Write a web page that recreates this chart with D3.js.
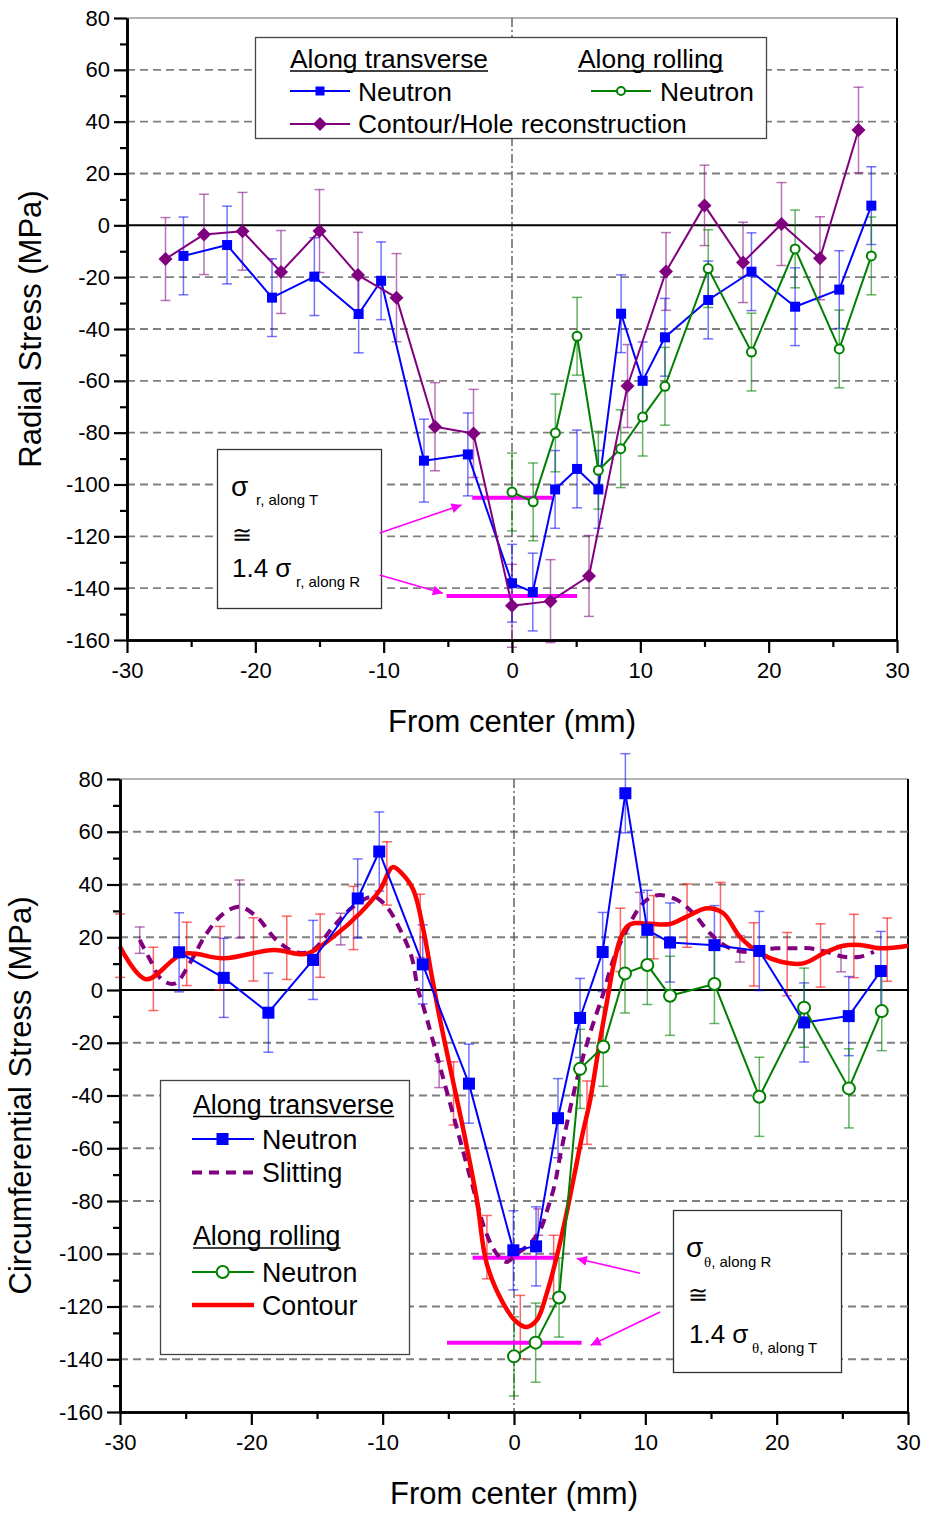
<!DOCTYPE html>
<html><head><meta charset="utf-8">
<script src="https://cdn.jsdelivr.net/npm/d3@7"></script>
<style>
body{margin:0;background:#fff}
svg{display:block;font-family:"Liberation Sans",Arial,sans-serif}
</style>
</head><body>
<script>
// ---------------- DATA ----------------
const xTickValues = [-30,-20,-10,0,10,20,30];
const xMinorValues = [-25,-15,-5,5,15,25];
const yTickValues = [-160,-140,-120,-100,-80,-60,-40,-20,0,20,40,60,80];
const yMinorValues = [-150,-130,-110,-90,-70,-50,-30,-10,10,30,50,70];

// Top chart: radial stress
const topBlueX = [-25.6,-22.2,-18.7,-15.4,-11.95,-10.2,-6.86,-3.44,0,1.62,3.36,5.07,6.73,8.5,10.18,11.92,15.29,18.66,22.06,25.5,28.0];
const topBlueY = [-11.8,-7.6,-27.9,-19.8,-34.2,-21.4,-90.8,-88.4,-138.1,-141.5,-101.9,-94,-101.9,-34.1,-60,-43.2,-28.8,-17.9,-31.4,-24.8,7.6];
const topBlueErr = [15,15,15,15,15,15,16,16,15,15,15,15,15,15,15,15,15,15,15,15,15];

const topPurpleX = [-27,-24,-21,-18,-15,-12,-9,-6,-3,0,3,6,9,12,15,18,21,24,27];
const topPurpleY = [-13,-3.5,-2.3,-18,-2.2,-19.2,-27.9,-77.7,-80.3,-146.8,-145,-135.3,-62,-17.8,7.7,-14.3,0.5,-12.7,36.8];
const topPurpleErr = [16,15.5,15,16,16,16.5,17,17,17,16,16,15.6,16,15,15.5,15.5,16,16,16.5];

const topGreenX = [0,1.65,3.38,5.07,6.73,8.47,10.18,11.92,15.29,18.66,22.06,25.5,28.0];
const topGreenY = [-102.9,-106.7,-80.1,-42.8,-94.5,-86.2,-74,-62.1,-16.7,-48.9,-9.1,-47.7,-11.8];
const topGreenErr = [15,15,15,15,15,15,15,15,15,15,15,15,15];

// Bottom chart: circumferential stress
const botBlueX = [-25.5,-22.1,-18.7,-15.3,-11.9,-10.26,-6.95,-3.43,-0.05,1.68,3.35,5.03,6.75,8.48,10.15,11.88,15.26,18.68,22.09,25.49,27.93];
const botBlueY = [14.3,4.6,-8.6,11.4,34.7,52.5,9.7,-35.5,-98.7,-97.2,-48.6,-10.6,14.4,74.6,22.8,18.0,17,14.8,-12.3,-9.9,7.2];
const botBlueErr = [15,15,15,15,15,15,15,15,15,15,15,15,15,15,15,15,15,15,15,15,15];

const botGreenX = [0,1.65,3.43,5.03,6.8,8.45,10.15,11.88,15.26,18.68,22.09,25.5,28.0];
const botGreenY = [-138.9,-133.7,-116.6,-29.9,-21.5,6.3,9.5,-2.2,2.3,-40.5,-6.7,-37.3,-8.0];
const botGreenErr = [15,15,15,15,15,15,15,15,15,15,15,15,15];

const contourX = [-30,-28,-25.2,-22.1,-18.3,-15.8,-13.76,-11.73,-10.2,-9.24,-8.6,-7.67,-6.9,-6.25,-5.6,-4.77,-3.8,-2.82,-2.08,-0.81,0.2,0.97,1.73,2.49,3.25,4.0,4.6,5.2,5.8,6.45,7.1,7.6,8.07,8.6,9.09,10.1,11.88,13.15,14.68,15.94,17.2,18.74,20.26,22.03,23.56,25.08,26.35,27.9,30];
const contourY = [16.4,4.1,13.7,12,15.2,13.7,20.2,29.1,38,46.6,44.5,38,22.8,5,-12,-31.6,-54.4,-79.7,-103.7,-118.9,-125.9,-127.8,-125.2,-115.1,-101.2,-84.7,-70,-55,-41.7,-22,-3.8,10,19,24,25.3,25.2,25,27.8,31,29.1,20.2,13.9,10.8,10.1,13.9,16.8,17.1,15.8,16.8];
const contourErrX = [-30,-27.46,-24.92,-22.38,-19.84,-17.3,-14.76,-12.22,-9.68,-7.14,-4.6,-2.06,0.48,3.02,5.56,8.1,10.64,13.18,15.72,18.26,20.8,23.34,25.88,28.42];
const contourErrY = [16.8,4.2,13.7,12.1,15.4,16,16.8,27.3,44.2,24.3,-39.2,-97.5,-127.8,-105,-46.5,19,23.8,28.2,28.8,13.5,9.8,13.1,16.7,15.3];
const contourErr = [12,12,12,12,12,12,12,12,12,12,12,12,12,12,12,12,12,12,12,12,12,12,12,12];

const slitX = [-28.5,-27.7,-26.8,-25.8,-24.7,-23.4,-22.1,-20.9,-19.6,-18.1,-16.55,-15.3,-13.76,-12.24,-10.7,-9.7,-8.68,-7.8,-7.3,-6.9,-5.5,-4.1,-3.2,-2.2,-1.32,-0.56,0.08,1.22,1.98,2.61,3.12,3.5,4.78,5.79,6.8,7.56,8.58,9.6,10.36,11.1,12.4,13.65,14.93,16.2,17.46,18.7,19.96,21.3,22.5,23.8,25.1,26.35,27.4];
const slitY = [19,11.4,3.8,2.5,10.1,21.5,29.1,31.6,27.8,19,14.2,15.2,24,31.6,35.4,31.6,23,12.6,0,-6.3,-31.5,-57,-73.5,-91,-100,-103.1,-100.6,-96.1,-91.1,-82.2,-73.4,-63.3,-34.2,-16.4,-1.3,11.4,22.8,31.6,35,36,34.2,29.1,21.5,16.4,14.5,15.2,15.8,15.8,15.8,14.5,12.6,12.6,14.5];
const slitErrX = [-28.5,-20.9,-13.2,-5.7,1.85,9.6,17.2,24.9];
const slitErrY = [18.9,30.7,23.1,-32,-88,31,15.6,11.9];
const slitErr = [5,11,6,5,5,6,5,5];

// annotation data (mm, MPa)
const topBands = [{y:-105.1,x0:-3.1,x1:3.13},{y:-143,x0:-5.1,x1:5.07}];
const topArrows = [{x0:-10.31,y0:-118.7,x1:-3.93,y1:-107.9},{x0:-10.31,y0:-134.9,x1:-5.39,y1:-142}];
const botBands = [{y:-101.5,x0:-3.15,x1:3.25},{y:-133.7,x0:-5.1,x1:5.15}];
const botArrows = [{x0:9.6,y0:-107.4,x1:4.78,y1:-101.8},{x0:11.12,y0:-122.1,x1:5.84,y1:-134.7}];

// ---------------- DRAWING ----------------
const FONT = '"Liberation Sans", Arial, sans-serif';
const svg = d3.select('body').append('svg').attr('width',926).attr('height',1514);
const defs = svg.append('defs');
defs.append('marker').attr('id','arrowM').attr('viewBox','0 0 10 10').attr('refX',10).attr('refY',5)
  .attr('markerWidth',14).attr('markerHeight',10).attr('markerUnits','userSpaceOnUse').attr('orient','auto')
  .append('path').attr('d','M0,0 L10,5 L0,10 Z').attr('fill','#ff00ff');

const zip = (xs, ys, es) => xs.map((v,i)=>({x:v, y:ys[i], e: es ? es[i] : 0}));

function setupChart(cfg){
  const x = d3.scaleLinear().domain([-30,30]).range([cfg.left,cfg.right]);
  const y = d3.scaleLinear().domain([-160,80]).range([cfg.bottom,cfg.top]);
  const g = svg.append('g');
  g.append('line').attr('x1',cfg.left).attr('x2',cfg.right).attr('y1',cfg.top).attr('y2',cfg.top)
    .attr('stroke','#9a9a9a').attr('stroke-width',1.5);
  g.append('line').attr('x1',cfg.right).attr('x2',cfg.right).attr('y1',cfg.top).attr('y2',cfg.bottom)
    .attr('stroke','#000').attr('stroke-width',2);
  g.append('g').selectAll('line').data(yTickValues.filter(v=>v!==0&&v!==80&&v!==-160)).join('line')
    .attr('x1',cfg.left).attr('x2',cfg.right).attr('y1',d=>y(d)).attr('y2',d=>y(d))
    .attr('stroke','#7f7f7f').attr('stroke-width',1.8).attr('stroke-dasharray','8,5');
  g.append('line').attr('x1',x(0)).attr('x2',x(0)).attr('y1',cfg.top).attr('y2',cfg.bottom)
    .attr('stroke','#5a5a5a').attr('stroke-width',1.4).attr('stroke-dasharray','9,3,2,3');
  g.append('line').attr('x1',cfg.left).attr('x2',cfg.right).attr('y1',y(0)).attr('y2',y(0))
    .attr('stroke','#000').attr('stroke-width',2);
  return {x,y,g,cfg};
}

function drawAxes(c, title, titleX){
  const {x,y,g,cfg} = c;
  const styleAxis = (sel, fs) => {
    sel.select('.domain').attr('stroke','#000').attr('stroke-width',2.6);
    sel.selectAll('.tick line').attr('stroke','#000').attr('stroke-width',2.2);
    sel.selectAll('.tick text').attr('fill','#000').style('font-family',FONT).style('font-size',fs+'px');
  };
  const la = g.append('g').attr('transform',`translate(${cfg.left},0)`)
    .call(d3.axisLeft(y).tickValues(yTickValues).tickSize(13).tickSizeOuter(0).tickPadding(4).tickFormat(d=>String(d)));
  styleAxis(la,22);
  const lm = g.append('g').attr('transform',`translate(${cfg.left},0)`)
    .call(d3.axisLeft(y).tickValues(yMinorValues).tickSize(7).tickSizeOuter(0).tickFormat(''));
  styleAxis(lm,22);
  const ba = g.append('g').attr('transform',`translate(0,${cfg.bottom})`)
    .call(d3.axisBottom(x).tickValues(xTickValues).tickSize(13).tickSizeOuter(0).tickPadding(9).tickFormat(d=>String(d)));
  styleAxis(ba,22);
  const bm = g.append('g').attr('transform',`translate(0,${cfg.bottom})`)
    .call(d3.axisBottom(x).tickValues(xMinorValues).tickSize(7).tickSizeOuter(0).tickFormat(''));
  styleAxis(bm,22);
  g.append('text').attr('x',(cfg.left+cfg.right)/2).attr('y',cfg.bottom+81)
    .attr('text-anchor','middle').attr('dominant-baseline','central')
    .style('font-family',FONT).style('font-size','31px').text('From center (mm)');
  g.append('text').attr('transform',`translate(${titleX},${(cfg.top+cfg.bottom)/2}) rotate(-90)`)
    .attr('text-anchor','middle').attr('dominant-baseline','central')
    .style('font-family',FONT).style('font-size','31px').text(title);
}

function errorBars(c, data, color, cap, sw){
  const {x,y,g} = c;
  const eg = g.append('g').attr('stroke',color).attr('stroke-width',sw||1.5);
  data.forEach(d=>{
    eg.append('line').attr('x1',x(d.x)).attr('x2',x(d.x)).attr('y1',y(d.y+d.e)).attr('y2',y(d.y-d.e));
    eg.append('line').attr('x1',x(d.x)-cap).attr('x2',x(d.x)+cap).attr('y1',y(d.y+d.e)).attr('y2',y(d.y+d.e));
    eg.append('line').attr('x1',x(d.x)-cap).attr('x2',x(d.x)+cap).attr('y1',y(d.y-d.e)).attr('y2',y(d.y-d.e));
  });
}
function polyline(c, data, color, sw, curve, dash){
  const {x,y,g} = c;
  const line = d3.line().x(d=>x(d.x)).y(d=>y(d.y)).curve(curve||d3.curveLinear);
  const p = g.append('path').datum(data).attr('d',line).attr('fill','none')
    .attr('stroke',color).attr('stroke-width',sw).attr('stroke-linejoin','round');
  if(dash) p.attr('stroke-dasharray',dash).attr('stroke-linecap','butt');
}
function squares(c, data, color, s){
  const {x,y,g} = c;
  g.append('g').selectAll('rect').data(data).join('rect')
    .attr('x',d=>x(d.x)-s/2).attr('y',d=>y(d.y)-s/2).attr('width',s).attr('height',s).attr('fill',color);
}
function diamonds(c, data, color, h){
  const {x,y,g} = c;
  g.append('g').selectAll('path').data(data).join('path')
    .attr('d',d=>`M${x(d.x)},${y(d.y)-h} L${x(d.x)+h},${y(d.y)} L${x(d.x)},${y(d.y)+h} L${x(d.x)-h},${y(d.y)} Z`)
    .attr('fill',color);
}
function circles(c, data, color, r, sw){
  const {x,y,g} = c;
  g.append('g').selectAll('circle').data(data).join('circle')
    .attr('cx',d=>x(d.x)).attr('cy',d=>y(d.y)).attr('r',r).attr('fill','#fff')
    .attr('stroke',color).attr('stroke-width',sw);
}
function annotations(c, bands, arrows){
  const {x,y,g} = c;
  bands.forEach(b=>g.append('line').attr('x1',x(b.x0)).attr('x2',x(b.x1)).attr('y1',y(b.y)).attr('y2',y(b.y))
    .attr('stroke','#ff00ff').attr('stroke-width',4));
  arrows.forEach(a=>g.append('line').attr('x1',x(a.x0)).attr('y1',y(a.y0)).attr('x2',x(a.x1)).attr('y2',y(a.y1))
    .attr('stroke','#ff00ff').attr('stroke-width',1.6).attr('marker-end','url(#arrowM)'));
}
function txt(g, xx, yy, s, fs){
  return g.append('text').attr('x',xx).attr('y',yy).style('font-family',FONT)
    .style('font-size',fs+'px').attr('fill','#000').text(s);
}
function underlined(g, xx, yy, s, fs){
  const t = txt(g,xx,yy,s,fs);
  const w = t.node().getComputedTextLength();
  g.append('line').attr('x1',xx).attr('x2',xx+w).attr('y1',yy+3).attr('y2',yy+3).attr('stroke','#000').attr('stroke-width',1.6);
}

const BLUE='#0000ff', PURPLE='#800080', GREEN='#008000', RED='#ff0000';
const BLUE_E='rgba(0,0,255,0.55)', PURPLE_E='rgba(128,0,128,0.55)', GREEN_E='rgba(0,128,0,0.6)', RED_E='rgba(255,0,0,0.6)';

// ---------- TOP CHART ----------
const topC = setupChart({left:127,right:897,top:18,bottom:640});
const tB = zip(topBlueX,topBlueY,topBlueErr), tP = zip(topPurpleX,topPurpleY,topPurpleErr), tG = zip(topGreenX,topGreenY,topGreenErr);
errorBars(topC,tB,BLUE_E,5);
errorBars(topC,tP,PURPLE_E,5);
errorBars(topC,tG,GREEN_E,5);
annotations(topC, topBands, []);
polyline(topC,tB,BLUE,2);
squares(topC,tB,BLUE,10);
polyline(topC,tG,GREEN,2);
circles(topC,tG,GREEN,4.5,2);
polyline(topC,tP,PURPLE,2);
diamonds(topC,tP,PURPLE,7);
drawAxes(topC,'Radial Stress (MPa)',30);

(function(){
  const g = topC.g;
  g.append('rect').attr('x',255.5).attr('y',37.5).attr('width',511).attr('height',101)
    .attr('fill','#fff').attr('stroke','#444').attr('stroke-width',1.3);
  underlined(g,290,68,'Along transverse',26.4);
  underlined(g,578,68,'Along rolling',26.4);
  g.append('line').attr('x1',290).attr('x2',350).attr('y1',91).attr('y2',91).attr('stroke',BLUE).attr('stroke-width',2);
  g.append('rect').attr('x',315.5).attr('y',86.5).attr('width',9).attr('height',9).attr('fill',BLUE);
  txt(g,358,101,'Neutron',26.4);
  g.append('line').attr('x1',591).attr('x2',651).attr('y1',91).attr('y2',91).attr('stroke',GREEN).attr('stroke-width',2);
  g.append('circle').attr('cx',621).attr('cy',91).attr('r',4).attr('fill','#fff').attr('stroke',GREEN).attr('stroke-width',2);
  txt(g,660,101,'Neutron',26.4);
  g.append('line').attr('x1',290).attr('x2',350).attr('y1',124).attr('y2',124).attr('stroke',PURPLE).attr('stroke-width',2);
  g.append('path').attr('d','M320,117 L327,124 L320,131 L313,124 Z').attr('fill',PURPLE);
  txt(g,358,133,'Contour/Hole reconstruction',26.4);

  g.append('rect').attr('x',217.5).attr('y',449.5).attr('width',164).attr('height',159)
    .attr('fill','#fff').attr('stroke','#333').attr('stroke-width',1.3);
  txt(g,231,496,'σ',28);
  txt(g,256,505,'r, along T',15);
  txt(g,232,543,'≅',24);
  txt(g,232,577,'1.4 σ',26);
  txt(g,296,587,'r, along R',15);
})();
annotations(topC, [], topArrows);

// ---------- BOTTOM CHART ----------
const botC = setupChart({left:120,right:908,top:779,bottom:1412});
const bB = zip(botBlueX,botBlueY,botBlueErr), bG = zip(botGreenX,botGreenY,botGreenErr);
const bC = zip(contourX,contourY), bS = zip(slitX,slitY);
errorBars(botC, zip(slitErrX,slitErrY,slitErr), PURPLE_E, 5);
errorBars(botC, zip(contourErrX,contourErrY,contourErr), RED_E, 5);
errorBars(botC,bB,BLUE_E,5);
errorBars(botC,bG,GREEN_E,5);
annotations(botC, botBands, botArrows);
polyline(botC,bS,PURPLE,4,d3.curveCatmullRom.alpha(0.5),'10,7');
polyline(botC,bC,RED,4.5,d3.curveCatmullRom.alpha(0.5));
polyline(botC,bB,BLUE,2);
squares(botC,bB,BLUE,12);
polyline(botC,bG,GREEN,2);
circles(botC,bG,GREEN,6,2);
drawAxes(botC,'Circumferential Stress (MPa)',20);

(function(){
  const g = botC.g;
  g.append('rect').attr('x',160.5).attr('y',1080.5).attr('width',249).attr('height',274)
    .attr('fill','#fff').attr('stroke','#444').attr('stroke-width',1.3);
  underlined(g,193,1113.5,'Along transverse',26.8);
  g.append('line').attr('x1',192).attr('x2',254).attr('y1',1139).attr('y2',1139).attr('stroke',BLUE).attr('stroke-width',2);
  g.append('rect').attr('x',216.5).attr('y',1133).attr('width',12).attr('height',12).attr('fill',BLUE);
  txt(g,262,1148.5,'Neutron',26.8);
  g.append('line').attr('x1',192).attr('x2',254).attr('y1',1172.5).attr('y2',1172.5).attr('stroke',PURPLE)
    .attr('stroke-width',4).attr('stroke-dasharray','10,7');
  txt(g,262,1181.5,'Slitting',26.8);
  underlined(g,193,1245,'Along rolling',26.8);
  g.append('line').attr('x1',192).attr('x2',254).attr('y1',1272).attr('y2',1272).attr('stroke',GREEN).attr('stroke-width',2);
  g.append('circle').attr('cx',222.7).attr('cy',1272).attr('r',6).attr('fill','#fff').attr('stroke',GREEN).attr('stroke-width',2);
  txt(g,262,1281.5,'Neutron',26.8);
  g.append('line').attr('x1',192).attr('x2',254).attr('y1',1305).attr('y2',1305).attr('stroke',RED).attr('stroke-width',4.5);
  txt(g,262,1314.5,'Contour',26.8);

  g.append('rect').attr('x',673.5).attr('y',1210.5).attr('width',168).attr('height',162)
    .attr('fill','#fff').attr('stroke','#333').attr('stroke-width',1.3);
  txt(g,686,1257,'σ',28);
  const s1 = txt(g,704,1267,'',15);
  s1.append('tspan').style('font-family','"Liberation Serif","Times New Roman",serif').text('θ');
  s1.append('tspan').text(', along R');
  txt(g,688,1303,'≅',24);
  txt(g,689,1343,'1.4 σ',26);
  const s2 = txt(g,752,1353,'',15);
  s2.append('tspan').style('font-family','"Liberation Serif","Times New Roman",serif').text('θ');
  s2.append('tspan').text(', along T');
})();
</script>
</body></html>
